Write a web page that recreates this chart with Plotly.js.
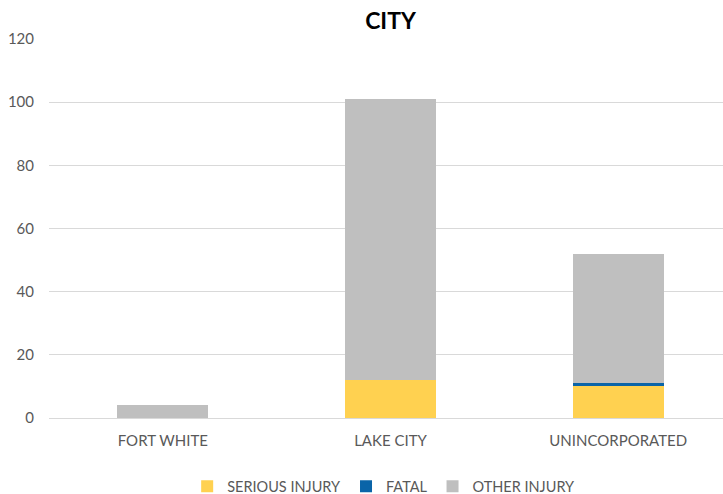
<!DOCTYPE html>
<html><head><meta charset="utf-8">
<script src="https://cdn.plot.ly/plotly-3.0.1.min.js"></script>
<style>html,body{margin:0;padding:0;overflow:hidden;background:#fff}</style>
</head><body><div id="chart" style="width:732px;height:494px"></div>
<script>
const categories = ["FORT WHITE", "LAKE CITY", "UNINCORPORATED"];
const seriousInjury = [0, 12, 10];
const fatal = [0, 0, 1];
const otherInjury = [4, 89, 41];
const fontFam = "Lato, 'Open Sans', sans-serif";
const tickFont = {family: fontFam, size: 15, color: "#595959"};
const traces = [
  {type: "bar", name: "SERIOUS INJURY", x: categories, y: seriousInjury, marker: {color: "#FFD150"}},
  {type: "bar", name: "FATAL", x: categories, y: fatal, marker: {color: "#0A64A8"}},
  {type: "bar", name: "OTHER INJURY", x: categories, y: otherInjury, marker: {color: "#BFBFBF"}}
];
const layout = {
  width: 732, height: 494,
  barmode: "stack", bargap: 0.6,
  paper_bgcolor: "#fff", plot_bgcolor: "#fff",
  margin: {l: 49, r: 0, t: 39, b: 76, autoexpand: false},
  title: {text: "<b>CITY</b>", x: 0.5, xref: "paper", y: 1, yref: "container", yanchor: "top", pad: {t: 13},
          font: {family: fontFam, size: 23, color: "#000"}},
  xaxis: {tickfont: tickFont, showgrid: false, zeroline: false, showline: true, linecolor: "#d9d9d9", linewidth: 1, ticks: "", ticklabelstandoff: 9},
  yaxis: {range: [0, 120], dtick: 20, tickfont: tickFont, gridcolor: "#d9d9d9", zeroline: false, ticks: "", ticklabelstandoff: 14, fixedrange: true},
  legend: {orientation: "h", x: 0.49, xanchor: "center", y: -0.18, yanchor: "middle", itemwidth: 30,
           font: {family: fontFam, size: 14.5, color: "#595959"}, traceorder: "normal"},
  showlegend: true
};
Plotly.newPlot("chart", traces, layout, {displayModeBar: false, staticPlot: true});
</script></body></html>
